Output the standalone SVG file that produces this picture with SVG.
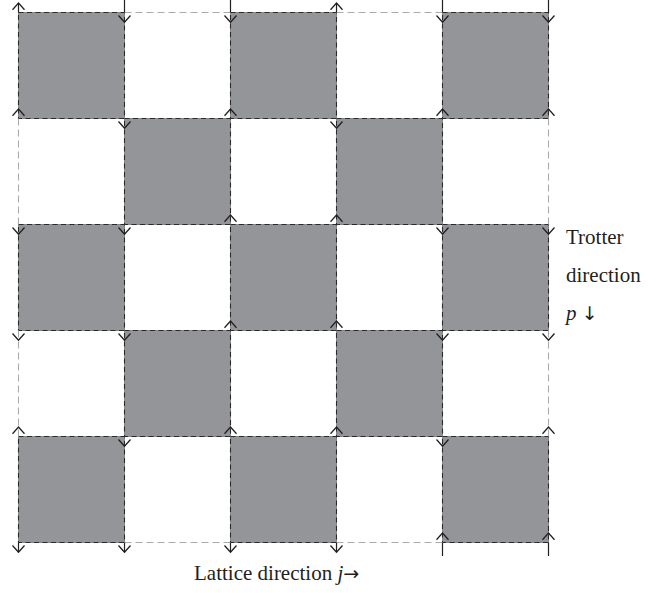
<svg xmlns="http://www.w3.org/2000/svg" xmlns:xlink="http://www.w3.org/1999/xlink" width="662" height="593" viewBox="0 0 662 593">
<style>
.cell{fill:#939598;stroke:#858688;stroke-width:1}
.edge{fill:none;stroke:#2a2a2a;stroke-width:1.1;stroke-dasharray:5 3.5}
.light{fill:none;stroke:#a9abae;stroke-width:1.1;stroke-dasharray:7 4}
.wl{fill:none;stroke:#231f20;stroke-width:1.2}
.arr{fill:none;stroke:#231f20;stroke-width:1.3;stroke-linejoin:miter}
.lbl{font-family:"Liberation Serif",serif;font-size:21px;fill:#231f20}
.sym{font-family:"DejaVu Sans",sans-serif;font-size:19px}
</style>
<defs>
<path id="up" class="arr" d="M-6,-2.8 L0,-9.5 L6,-2.8"/>
<path id="dn" class="arr" d="M-6,3 L0,9.7 L6,3"/>
</defs>
<rect width="662" height="593" fill="#ffffff"/>
<g id="plaquettes">
<g id="p00"><rect class="cell" x="18.5" y="12.5" width="106" height="106"/><rect class="edge" x="18.5" y="12.5" width="106" height="106"/></g>
<g id="p02"><rect class="cell" x="230.5" y="12.5" width="106" height="106"/><rect class="edge" x="230.5" y="12.5" width="106" height="106"/></g>
<g id="p04"><rect class="cell" x="442.5" y="12.5" width="106" height="106"/><rect class="edge" x="442.5" y="12.5" width="106" height="106"/></g>
<g id="p11"><rect class="cell" x="124.5" y="118.5" width="106" height="106"/><rect class="edge" x="124.5" y="118.5" width="106" height="106"/></g>
<g id="p13"><rect class="cell" x="336.5" y="118.5" width="106" height="106"/><rect class="edge" x="336.5" y="118.5" width="106" height="106"/></g>
<g id="p20"><rect class="cell" x="18.5" y="224.5" width="106" height="106"/><rect class="edge" x="18.5" y="224.5" width="106" height="106"/></g>
<g id="p22"><rect class="cell" x="230.5" y="224.5" width="106" height="106"/><rect class="edge" x="230.5" y="224.5" width="106" height="106"/></g>
<g id="p24"><rect class="cell" x="442.5" y="224.5" width="106" height="106"/><rect class="edge" x="442.5" y="224.5" width="106" height="106"/></g>
<g id="p31"><rect class="cell" x="124.5" y="330.5" width="106" height="106"/><rect class="edge" x="124.5" y="330.5" width="106" height="106"/></g>
<g id="p33"><rect class="cell" x="336.5" y="330.5" width="106" height="106"/><rect class="edge" x="336.5" y="330.5" width="106" height="106"/></g>
<g id="p40"><rect class="cell" x="18.5" y="436.5" width="106" height="106"/><rect class="edge" x="18.5" y="436.5" width="106" height="106"/></g>
<g id="p42"><rect class="cell" x="230.5" y="436.5" width="106" height="106"/><rect class="edge" x="230.5" y="436.5" width="106" height="106"/></g>
<g id="p44"><rect class="cell" x="442.5" y="436.5" width="106" height="106"/><rect class="edge" x="442.5" y="436.5" width="106" height="106"/></g>
</g>
<g id="connectors">
<g id="boundary">
<line class="light" x1="124.5" y1="12.5" x2="230.5" y2="12.5"/>
<line class="light" x1="336.5" y1="12.5" x2="442.5" y2="12.5"/>
<line class="light" x1="124.5" y1="542.5" x2="230.5" y2="542.5"/>
<line class="light" x1="336.5" y1="542.5" x2="442.5" y2="542.5"/>
<line class="light" x1="18.5" y1="118.5" x2="18.5" y2="224.5"/>
<line class="light" x1="18.5" y1="330.5" x2="18.5" y2="436.5"/>
<line class="light" x1="548.5" y1="118.5" x2="548.5" y2="224.5"/>
<line class="light" x1="548.5" y1="330.5" x2="548.5" y2="436.5"/>
</g>
<g id="worldlines">
<line class="wl" x1="18.5" y1="3" x2="18.5" y2="12.5"/>
<line class="wl" x1="124.5" y1="0" x2="124.5" y2="12.5"/>
<line class="wl" x1="230.5" y1="0" x2="230.5" y2="12.5"/>
<line class="wl" x1="336.5" y1="3" x2="336.5" y2="12.5"/>
<line class="wl" x1="442.5" y1="0" x2="442.5" y2="12.5"/>
<line class="wl" x1="548.5" y1="0" x2="548.5" y2="12.5"/>
<line class="wl" x1="18.5" y1="542.5" x2="18.5" y2="552"/>
<line class="wl" x1="124.5" y1="542.5" x2="124.5" y2="552"/>
<line class="wl" x1="230.5" y1="542.5" x2="230.5" y2="552"/>
<line class="wl" x1="336.5" y1="542.5" x2="336.5" y2="552"/>
<line class="wl" x1="442.5" y1="542.5" x2="442.5" y2="556"/>
<line class="wl" x1="548.5" y1="542.5" x2="548.5" y2="556"/>
</g>
<g id="arrows">
<use xlink:href="#up" x="18.5" y="12.5"/><use xlink:href="#dn" x="124.5" y="12.5"/><use xlink:href="#dn" x="230.5" y="12.5"/><use xlink:href="#up" x="336.5" y="12.5"/><use xlink:href="#dn" x="442.5" y="12.5"/><use xlink:href="#dn" x="548.5" y="12.5"/>
<use xlink:href="#up" x="18.5" y="118.5"/><use xlink:href="#dn" x="124.5" y="118.5"/><use xlink:href="#up" x="230.5" y="118.5"/><use xlink:href="#dn" x="336.5" y="118.5"/><use xlink:href="#up" x="442.5" y="118.5"/><use xlink:href="#up" x="548.5" y="118.5"/>
<use xlink:href="#dn" x="18.5" y="224.5"/><use xlink:href="#dn" x="124.5" y="224.5"/><use xlink:href="#up" x="230.5" y="224.5"/><use xlink:href="#up" x="336.5" y="224.5"/><use xlink:href="#dn" x="442.5" y="224.5"/><use xlink:href="#dn" x="548.5" y="224.5"/>
<use xlink:href="#dn" x="18.5" y="330.5"/><use xlink:href="#dn" x="124.5" y="330.5"/><use xlink:href="#up" x="230.5" y="330.5"/><use xlink:href="#up" x="336.5" y="330.5"/><use xlink:href="#dn" x="442.5" y="330.5"/><use xlink:href="#dn" x="548.5" y="330.5"/>
<use xlink:href="#up" x="18.5" y="436.5"/><use xlink:href="#dn" x="124.5" y="436.5"/><use xlink:href="#up" x="230.5" y="436.5"/><use xlink:href="#up" x="336.5" y="436.5"/><use xlink:href="#dn" x="442.5" y="436.5"/><use xlink:href="#up" x="548.5" y="436.5"/>
<use xlink:href="#dn" x="18.5" y="542.5"/><use xlink:href="#dn" x="124.5" y="542.5"/><use xlink:href="#dn" x="230.5" y="542.5"/><use xlink:href="#dn" x="336.5" y="542.5"/><use xlink:href="#up" x="442.5" y="542.5"/><use xlink:href="#up" x="548.5" y="542.5"/>
</g>
</g>
<g id="labels">
<text class="lbl" x="566" y="244">Trotter</text>
<text class="lbl" x="566" y="282">direction</text>
<text class="lbl" x="566" y="320"><tspan font-style="italic">p</tspan> <tspan class="sym">↓</tspan></text>
<text class="lbl" x="194" y="580">Lattice direction <tspan font-style="italic">j</tspan><tspan class="sym">→</tspan></text>
</g>
</svg>
